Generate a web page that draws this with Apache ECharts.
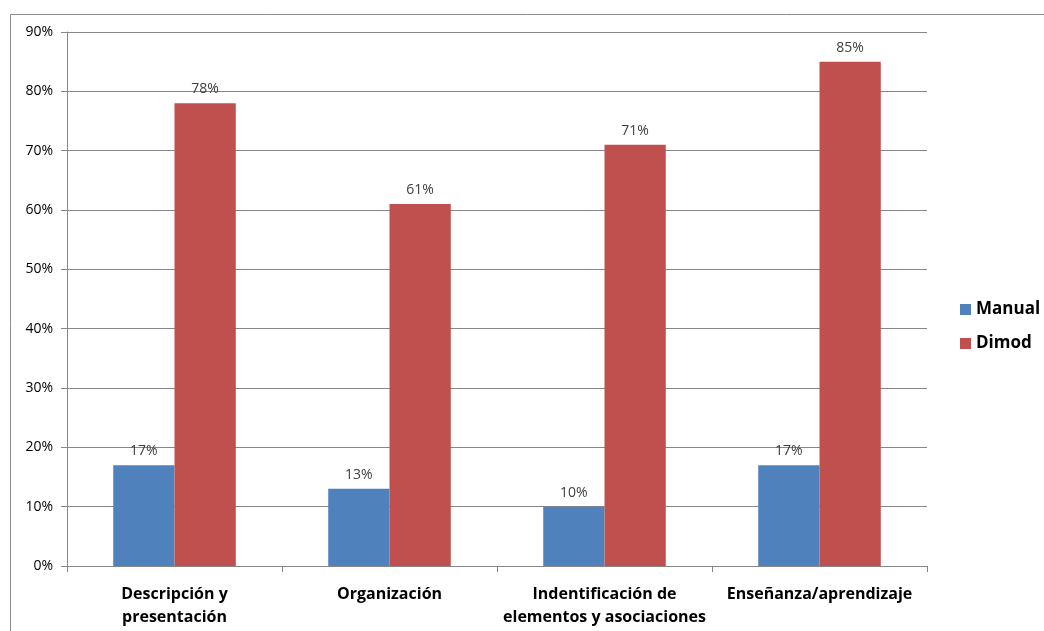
<!DOCTYPE html>
<html>
<head>
<meta charset="utf-8">
<script src="https://cdn.jsdelivr.net/npm/echarts@6/dist/echarts.min.js"></script>
<style>
  html, body { margin: 0; padding: 0; background: #fff; }
  #main { width: 1044px; height: 631px; }
</style>
</head>
<body>
<div id="main"></div>
<script>
// datos del gráfico
var categorias = ["Descripción y\npresentación", "Organización", "Indentificación de\nelementos y asociaciones", "Enseñanza/aprendizaje"];
var manual = [17, 13, 10, 17];
var dimod = [78, 61, 71, 85];
var ticksY = [0, 10, 20, 30, 40, 50, 60, 70, 80, 90];

var myChart = echarts.init(document.getElementById("main"));

var etiqueta = {
  show: true,
  position: "top",
  distance: 7,
  formatter: "{c}%",
  color: "#404040",
  fontSize: 14,
  fontFamily: "Open Sans"
};

var option = {
  backgroundColor: "#fff",
  animation: false,
  // marco exterior
  graphic: [
    {
      type: "rect",
      shape: { x: 10.5, y: 14.5, width: 1040, height: 630 },
      style: { fill: "none", stroke: "#8c8c8c", lineWidth: 1 },
      silent: true
    }
  ],
  grid: { left: 67, right: 117, top: 32, bottom: 65 },
  legend: {
    orient: "vertical",
    left: 955,
    top: 296,
    itemWidth: 11,
    itemHeight: 11,
    itemGap: 17,
    icon: "rect",
    textStyle: { color: "#000", fontSize: 17, fontWeight: "bold", fontFamily: "Open Sans" },
    data: ["Manual", "Dimod"]
  },
  xAxis: {
    type: "category",
    data: categorias,
    axisLine: { lineStyle: { color: "#868686" } },
    axisTick: { show: true, length: 6, lineStyle: { color: "#868686" } },
    axisLabel: {
      color: "#000",
      fontSize: 16,
      fontWeight: "bold",
      fontFamily: "Open Sans",
      lineHeight: 23,
      margin: 17,
      interval: 0
    }
  },
  yAxis: {
    type: "value",
    min: ticksY[0],
    max: ticksY[ticksY.length - 1],
    interval: 10,
    axisLine: { show: true, lineStyle: { color: "#868686" } },
    axisTick: { show: true, length: 6, lineStyle: { color: "#868686" } },
    axisLabel: {
      formatter: "{value}%",
      color: "#000",
      fontSize: 14,
      fontFamily: "Open Sans",
      margin: 14
    },
    splitLine: { lineStyle: { color: "#868686" } }
  },
  series: [
    {
      name: "Manual",
      type: "bar",
      data: manual,
      barGap: "0%",
      barCategoryGap: "43%",
      itemStyle: { color: "#4F81BD" },
      label: etiqueta
    },
    {
      name: "Dimod",
      type: "bar",
      data: dimod,
      barGap: "0%",
      barCategoryGap: "43%",
      itemStyle: { color: "#C0504D" },
      label: etiqueta
    }
  ]
};

myChart.setOption(option);
</script>
</body>
</html>
